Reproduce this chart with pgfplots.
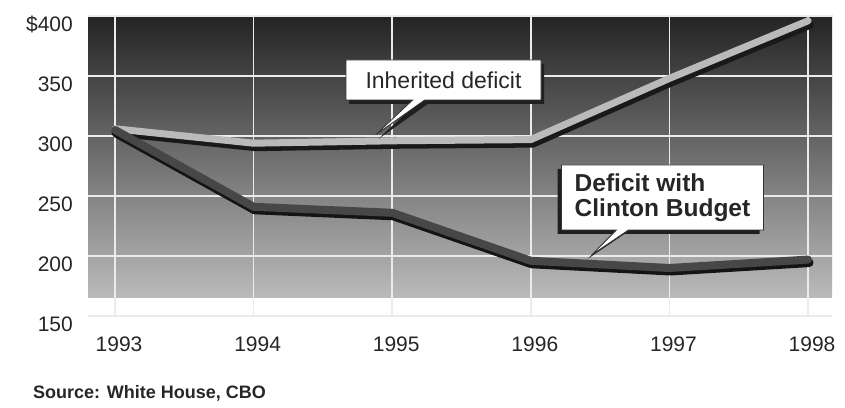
\documentclass[border=0pt]{standalone}
\usepackage{pgfplots}
\pgfplotsset{compat=1.18}
\usepackage{fontspec}
\setmainfont{Liberation Sans}
\usetikzlibrary{shapes.callouts,shadows}
\begin{document}
\begin{tikzpicture}
\begin{axis}[
  set layers,
  scale only axis, width=744pt, height=300pt,
  xmin=1992.805, xmax=1998.173, ymin=150, ymax=400,
  xtick={1993,1994,1995,1996,1997,1998},
  xticklabels={1993,1994,1995,1996,1997,1998},
  ytick={150,200,250,300,350,400},
  yticklabels={150,200,250,300,350,\$400},
  axis line style={draw=none},
  major tick length=0pt,
  grid=major,
  major grid style={white!92!black, line width=1.6pt},
  tick label style={font=\fontsize{21}{24}\selectfont, text=black!85},
  yticklabel style={inner sep=0pt, anchor=east, xshift=-15pt, yshift=-8pt},
  xticklabel style={inner sep=0pt, anchor=north, yshift=-21pt, xshift=4pt},
  clip=false,
]
\begin{pgfonlayer}{axis background}
\fill[top color=black!86, middle color=black!60, bottom color=black!27] (axis cs:1992.805,165.8) rectangle (axis cs:1998.173,400);
\end{pgfonlayer}
% Inherited deficit
\addplot[black!90, line width=8pt, line cap=round, line join=round, xshift=2pt, yshift=-4pt] coordinates {(1993,306) (1994,294) (1995,296) (1996,297) (1997,348) (1998,396)};
\addplot[black!27, line width=7pt, line cap=round, line join=round] coordinates {(1993,306) (1994,294) (1995,296) (1996,297) (1997,348) (1998,396)};
% Deficit with Clinton budget
\addplot[black!92, line width=9pt, line cap=round, line join=round, xshift=1pt, yshift=-3pt] coordinates {(1993,305) (1994,241) (1995,236) (1996,196) (1997,190) (1998,197)};
\addplot[black!72, line width=8pt, line cap=round, line join=round] coordinates {(1993,305) (1994,241) (1995,236) (1996,196) (1997,190) (1998,197)};
\node[rectangle callout, fill=white, draw=black!80, line width=0.8pt,
  drop shadow={shadow xshift=3pt, shadow yshift=-4pt, fill=black!88, opacity=1},
  minimum width=195pt, minimum height=40pt, inner sep=0pt,
  callout absolute pointer={(axis cs:1994.88,301)}, callout pointer width=12pt,
  font=\fontsize{23}{26}\selectfont, text=black!85] at (axis cs:1995.37,346.7) {Inherited deficit};
\node[rectangle callout, fill=white, draw=black!80, line width=0.8pt,
  drop shadow={shadow xshift=-4pt, shadow yshift=-4pt, fill=black!88, opacity=1},
  minimum width=202pt, minimum height=65pt, inner sep=0pt, align=left,
  callout absolute pointer={(axis cs:1996.44,201)}, callout pointer width=12pt,
  font=\bfseries\fontsize{24.5}{25}\selectfont, text=black!85] at (axis cs:1996.95,248.75) {Deficit with\\Clinton Budget};
\end{axis}
\node[anchor=west, inner sep=0pt, font=\bfseries\fontsize{18}{20}\selectfont, text=black!85] at ([xshift=-55pt,yshift=-77pt]current axis.south west) {Source: White House, CBO};
\path ([xshift=-88pt,yshift=-92pt]current axis.south west) rectangle ([xshift=13pt,yshift=16pt]current axis.north east);
\end{tikzpicture}
\end{document}
